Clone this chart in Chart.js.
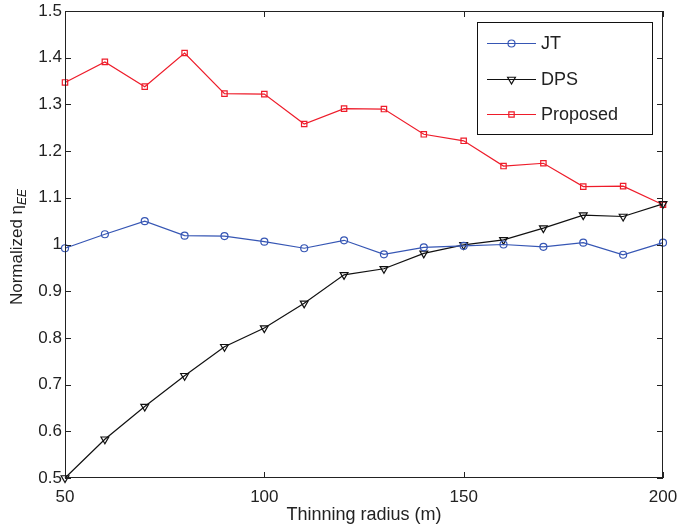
<!DOCTYPE html>
<html>
<head>
<meta charset="utf-8">
<script src="https://cdn.jsdelivr.net/npm/chart.js@4"></script>
<style>
  html, body { margin: 0; padding: 0; background: #fff; }
  #wrap { width: 680px; height: 526px; }
</style>
</head>
<body>
<div id="wrap"><canvas id="chart" width="680" height="526"></canvas></div>
<script>
const radius = [50, 60, 70, 80, 90, 100, 110, 120, 130, 140, 150, 160, 170, 180, 190, 200];
const jt = [0.992, 1.022, 1.050, 1.019, 1.018, 1.006, 0.992, 1.009, 0.979, 0.994, 0.997, 1.000, 0.995, 1.004, 0.978, 1.004];
const dps = [0.500, 0.583, 0.653, 0.719, 0.781, 0.821, 0.874, 0.935, 0.948, 0.981, 0.999, 1.010, 1.035, 1.063, 1.060, 1.087];
const proposed = [1.347, 1.391, 1.338, 1.410, 1.323, 1.322, 1.258, 1.291, 1.290, 1.236, 1.222, 1.168, 1.174, 1.124, 1.125, 1.085];
const xTicks = [50, 100, 150, 200];
const yTicks = [0.5, 0.6, 0.7, 0.8, 0.9, 1.0, 1.1, 1.2, 1.3, 1.4, 1.5];

const FONT = 'Liberation Sans, Arial, sans-serif';
const BLUE = '#3656b4';
const RED = '#ee1c2a';
const BLACK = '#111111';

const pts = vals => vals.map((v, i) => ({ x: radius[i], y: v }));

// frame, inward tick marks, legend and the y title with subscript
const decor = {
  id: 'decor',
  afterDraw(chart) {
    const { ctx, chartArea: a, scales } = chart;
    ctx.save();
    ctx.strokeStyle = '#222';
    ctx.lineWidth = 1;
    ctx.strokeRect(a.left + 0.5, a.top + 0.5, a.right - a.left - 1, a.bottom - a.top - 1);
    ctx.beginPath();
    for (const t of xTicks) {
      const px = Math.round(scales.x.getPixelForValue(t)) + 0.5;
      ctx.moveTo(px, a.bottom); ctx.lineTo(px, a.bottom - 6);
      ctx.moveTo(px, a.top); ctx.lineTo(px, a.top + 6);
    }
    for (const t of yTicks) {
      const py = Math.round(scales.y.getPixelForValue(t)) + 0.5;
      ctx.moveTo(a.left, py); ctx.lineTo(a.left + 6, py);
      ctx.moveTo(a.right, py); ctx.lineTo(a.right - 6, py);
    }
    ctx.stroke();

    // legend
    const lx = 477, ly = 22, lw = 175, lh = 112;
    ctx.fillStyle = '#fff';
    ctx.fillRect(lx, ly, lw, lh);
    ctx.strokeStyle = '#111';
    ctx.strokeRect(lx + 0.5, ly + 0.5, lw, lh);
    const rows = [43, 79, 114];
    chart.data.datasets.forEach((ds, i) => {
      const y = rows[i] + 0.5;
      ctx.strokeStyle = ds.borderColor;
      ctx.lineWidth = 1.2;
      ctx.beginPath();
      ctx.moveTo(487, y); ctx.lineTo(536, y);
      ctx.stroke();
      ctx.fillStyle = 'rgba(0,0,0,0)';
      Chart.helpers.drawPoint(ctx, {
        pointStyle: ds.pointStyle, rotation: ds.pointRotation || 0,
        radius: ds.pointRadius, borderWidth: 1.2
      }, 511.5, y);
      ctx.fillStyle = '#222';
      ctx.font = '18px ' + FONT;
      ctx.textBaseline = 'middle';
      ctx.textAlign = 'left';
      ctx.fillText(ds.label, 541, y + 1);
    });

    // y axis title: Normalized η_EE
    ctx.translate(17, 247);
    ctx.rotate(-Math.PI / 2);
    ctx.fillStyle = '#222';
    ctx.textBaseline = 'middle';
    const main = 'Normalized \u03b7';
    const sub = 'EE';
    ctx.font = 'italic 12px ' + FONT;
    const subW = ctx.measureText(sub).width;
    ctx.font = '17px ' + FONT;
    const mainW = ctx.measureText(main).width;
    const x0 = -(mainW + subW) / 2;
    ctx.textAlign = 'left';
    ctx.fillText(main, x0, 0);
    ctx.font = 'italic 12px ' + FONT;
    ctx.fillText(sub, x0 + mainW, 6);
    ctx.restore();
  }
};

new Chart(document.getElementById('chart'), {
  type: 'line',
  data: {
    datasets: [
      { label: 'JT', data: pts(jt), borderColor: BLUE, pointStyle: 'circle', pointRadius: 3.5 },
      { label: 'DPS', data: pts(dps), borderColor: BLACK, pointStyle: 'triangle', pointRotation: 180, pointRadius: 4.5 },
      { label: 'Proposed', data: pts(proposed), borderColor: RED, pointStyle: 'rect', pointRadius: 3.8 }
    ].map(ds => ({
      ...ds,
      backgroundColor: 'rgba(0,0,0,0)',
      pointBorderColor: ds.borderColor,
      pointBackgroundColor: 'rgba(0,0,0,0)',
      borderWidth: 1.2,
      pointBorderWidth: 1.2,
      tension: 0,
      clip: false
    }))
  },
  options: {
    responsive: false,
    animation: false,
    events: [],
    layout: { padding: { top: 11, right: 17, left: 0, bottom: 0 } },
    plugins: { legend: { display: false }, tooltip: { enabled: false } },
    scales: {
      x: {
        type: 'linear', min: 50, max: 200,
        afterBuildTicks: s => { s.ticks = xTicks.map(v => ({ value: v })); },
        afterFit: s => { s.height = 48; s.paddingLeft = 0; s.paddingRight = 0; },
        grid: { display: false, drawTicks: false },
        border: { display: false },
        ticks: { color: '#222', font: { family: FONT, size: 17 }, padding: 9 },
        title: {
          display: true, text: 'Thinning radius (m)', color: '#222',
          font: { family: FONT, size: 18 }, padding: { top: 0, bottom: 0 }
        }
      },
      y: {
        min: 0.5, max: 1.5,
        afterBuildTicks: s => { s.ticks = yTicks.map(v => ({ value: v })); },
        afterFit: s => { s.width = 65; s.paddingTop = 0; s.paddingBottom = 0; },
        grid: { display: false, drawTicks: false },
        border: { display: false },
        ticks: {
          color: '#222', font: { family: FONT, size: 17 }, padding: 3,
          callback: v => String(Math.round(v * 10) / 10)
        }
      }
    }
  },
  plugins: [decor]
});
</script>
</body>
</html>
